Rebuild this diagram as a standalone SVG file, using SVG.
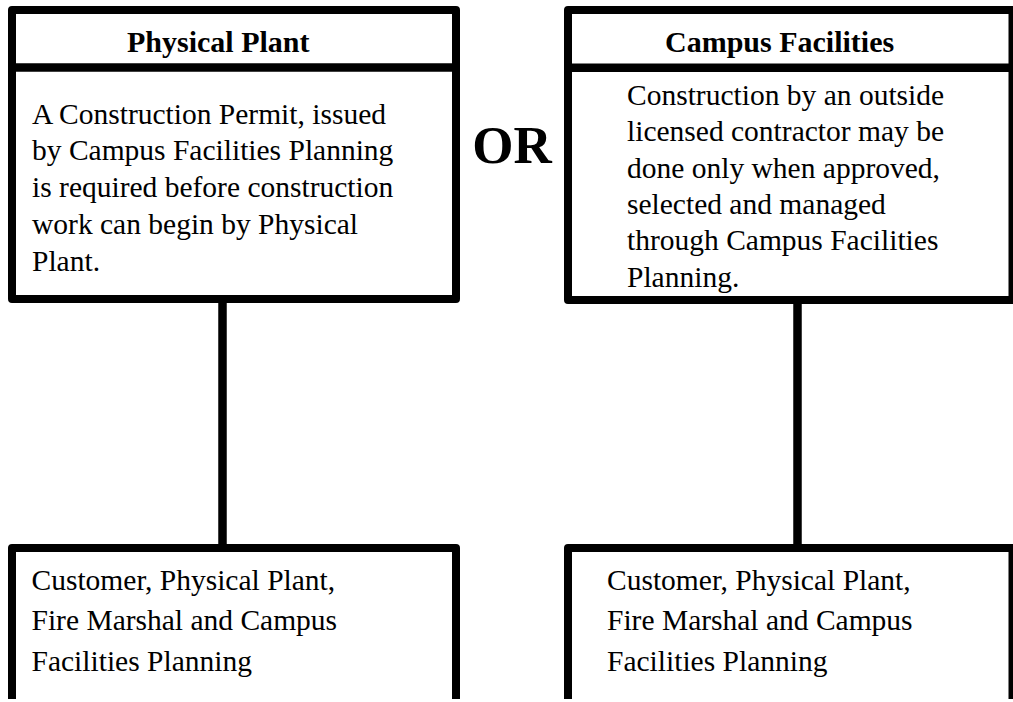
<svg xmlns="http://www.w3.org/2000/svg" width="1013" height="702" viewBox="0 0 1013 702">
  <style>
    .box { fill: #ffffff; stroke: #000000; stroke-width: 8; stroke-linejoin: round; }
    .div { stroke: #000000; stroke-width: 8.5; }
    .conn { stroke: #000000; stroke-width: 8.5; fill: none; }
    .hd { font-family: "Liberation Serif", "Times New Roman", serif; font-weight: bold; font-size: 30px; fill: #000000; }
    .bd { font-family: "Liberation Serif", "Times New Roman", serif; font-size: 29.5px; fill: #000000; }
    .or { font-family: "Liberation Serif", "Times New Roman", serif; font-weight: bold; font-size: 53px; fill: #000000; }
  </style>
  <rect x="0" y="0" width="1013" height="702" fill="#ffffff"/>

  <g id="connectors">
    <line class="conn" x1="222.5" y1="300" x2="222.5" y2="548"/>
    <line class="conn" x1="797.5" y1="300" x2="797.5" y2="548"/>
  </g>

  <g id="physical-plant">
    <rect class="box" x="12" y="10" width="444" height="289"/>
    <line class="div" x1="12" y1="67.5" x2="456" y2="67.5"/>
    <text class="hd" x="127" y="52">Physical Plant</text>
    <text class="bd">
      <tspan x="32" y="123.5">A Construction Permit, issued</tspan>
      <tspan x="32" y="160.3">by Campus Facilities Planning</tspan>
      <tspan x="32" y="197.2">is required before construction</tspan>
      <tspan x="32" y="234">work can begin by Physical</tspan>
      <tspan x="32" y="270.9">Plant.</tspan>
    </text>
  </g>

  <g id="or-label">
    <text class="or" x="512" y="163" text-anchor="middle">OR</text>
  </g>

  <g id="campus-facilities">
    <rect class="box" x="568" y="10" width="444.5" height="290"/>
    <line class="div" x1="568" y1="67.8" x2="1013" y2="67.8"/>
    <text class="hd" x="665" y="52">Campus Facilities</text>
    <text class="bd">
      <tspan x="627" y="105">Construction by an outside</tspan>
      <tspan x="627" y="141.3">licensed contractor may be</tspan>
      <tspan x="627" y="177.6">done only when approved,</tspan>
      <tspan x="627" y="213.9">selected and managed</tspan>
      <tspan x="627" y="250.2">through Campus Facilities</tspan>
      <tspan x="627" y="286.5">Planning.</tspan>
    </text>
  </g>

  <g id="approvers-left">
    <path class="box" d="M12,699 V548 H456 V699"/>
    <text class="bd">
      <tspan x="31.5" y="590">Customer, Physical Plant,</tspan>
      <tspan x="31.5" y="630">Fire Marshal and Campus</tspan>
      <tspan x="31.5" y="671">Facilities Planning</tspan>
    </text>
  </g>

  <g id="approvers-right">
    <path class="box" d="M568,699 V548 H1012.5 V699"/>
    <text class="bd">
      <tspan x="607" y="590">Customer, Physical Plant,</tspan>
      <tspan x="607" y="630">Fire Marshal and Campus</tspan>
      <tspan x="607" y="671">Facilities Planning</tspan>
    </text>
  </g>
</svg>
